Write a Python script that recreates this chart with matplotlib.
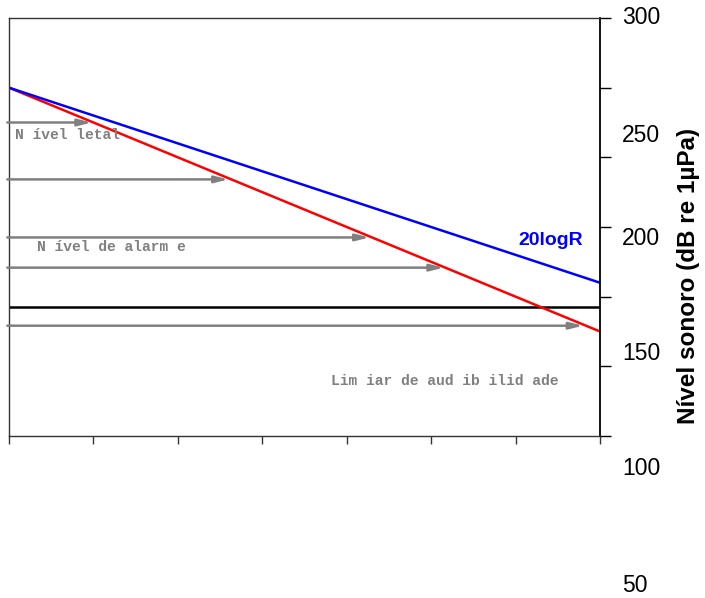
import matplotlib
matplotlib.use("Agg")
import matplotlib.pyplot as plt

# ---- data ----
x_range = [0, 7]
x_ticks = [0, 1, 2, 3, 4, 5, 6, 7]
y_ticks = [120, 150, 180, 210, 240, 270, 300]
spherical_20logR = [270, 186]      # blue line
measured_loss = [270, 165]         # red line
arrow_levels = [255, 230.5, 205.5, 192.5, 167.5]
arrow_end_x = [0.98, 2.60, 4.27, 5.15, 6.80]
threshold_level = 175.5
tick_label_values = ["300", "250", "200", "150", "100", "50"]
tick_label_ypix = [17.5, 135.5, 238.5, 353.5, 468.5, 585]
annotations = [("N ível letal", 0.07, 249.6),
               ("N ível de alarm e", 0.33, 201.4),
               ("Lim iar de aud ib ilid ade", 3.81, 143.7)]

W, H = 705, 598
fig = plt.figure(figsize=(W / 100, H / 100), dpi=100)
ax = fig.add_axes([9 / W, 1 - 436 / H, (600 - 9) / W, (436 - 18) / H])
ax.set_xlim(x_range)
ax.set_ylim(120, 300)

for sp in ax.spines.values():
    sp.set_color("#333333")
    sp.set_linewidth(1.0)
ax.spines["right"].set_color("black")
ax.spines["right"].set_linewidth(1.3)

ax.set_xticks(x_ticks)
ax.set_xticklabels([])
ax.tick_params(axis="x", direction="out", length=6, width=1, color="#333333")
ax.yaxis.tick_right()
ax.set_yticks(y_ticks)
ax.set_yticklabels([])
ax.tick_params(axis="y", direction="out", length=8, width=1, color="black")

# arrows (gray)
for lvl, xe in zip(arrow_levels, arrow_end_x):
    ax.annotate("", xy=(xe, lvl), xytext=(-0.02, lvl),
                arrowprops=dict(arrowstyle="-|>,head_length=0.8,head_width=0.2",
                                color="#808080", lw=1.8, shrinkA=0, shrinkB=0),
                annotation_clip=False)

ax.axhline(threshold_level, color="black", lw=1.8)
ax.plot(x_range, measured_loss, color="#ff0000", lw=1.8, solid_capstyle="butt")
ax.plot(x_range, spherical_20logR, color="#0000ff", lw=1.8, solid_capstyle="butt")

for txt, xx, yy in annotations:
    ax.text(xx, yy, txt, family="Liberation Mono", fontweight="bold",
            color="#808080", fontsize=10.5, ha="left", va="center")

ax.text(6.03, 204.4, "20logR", color="#0000ff", fontweight="bold",
        family="Liberation Sans", fontsize=14, ha="left", va="center")

for lab, py in zip(tick_label_values, tick_label_ypix):
    fig.text(622 / W, 1 - py / H, lab, family="Liberation Sans",
             fontsize=16.5, ha="left", va="center")

fig.text(689 / W, 1 - 276 / H, "Nível sonoro (dB re 1µPa)", rotation=90,
         family="Liberation Sans", fontweight="bold", fontsize=17.5,
         ha="center", va="center")

fig.savefig("out.png", dpi=100)
